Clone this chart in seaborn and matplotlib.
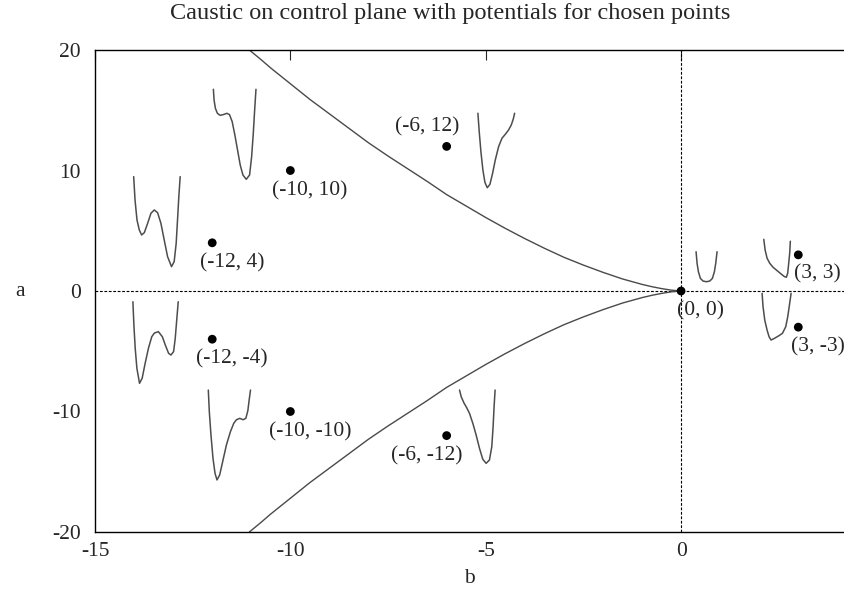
import numpy as np
import matplotlib
matplotlib.use("Agg")
import matplotlib.pyplot as plt
import seaborn as sns

# caustic branch (upper half, lower is mirrored)
caustic_b = [-11.05, -10.75, -10.5, -10.25, -10.0, -9.5, -9.0, -8.5, -8.0, -7.5, -7.0, -6.5,
             -6.0, -5.5, -5.0, -4.5, -4.0, -3.5, -3.0, -2.5, -2.0, -1.5, -1.0, -0.75,
             -0.5, -0.25, 0.0]
caustic_a = [20.0, 19.2, 18.5, 17.85, 17.2, 15.9, 14.7, 13.5, 12.3, 11.2, 10.15, 9.1,
             8.0, 7.05, 6.1, 5.2, 4.35, 3.55, 2.8, 2.15, 1.55, 1.0, 0.55, 0.36,
             0.2, 0.07, 0.0]

# chosen points (b, a)
point_b = [-12, -10, -6, -12, -10, -6, 0, 3, 3]
point_a = [4, 10, 12, -4, -10, -12, 0, 3, -3]

# potential shapes, read from the small glyphs (u across, v up, both 0..1)
pot_u_m12_4 = [0, 0.029, 0.071, 0.121, 0.171, 0.229, 0.3, 0.371, 0.443, 0.514, 0.586,
               0.657, 0.729, 0.814, 0.871, 0.914, 0.943, 0.971, 1]
pot_v_m12_4 = [1, 0.741, 0.519, 0.407, 0.352, 0.378, 0.481, 0.593, 0.63, 0.6, 0.481,
               0.296, 0.111, 0, 0.056, 0.259, 0.519, 0.778, 1]

pot_u_m10_10 = [0, 0.016, 0.047, 0.094, 0.157, 0.236, 0.315, 0.378, 0.441, 0.504, 0.567,
                0.63, 0.693, 0.772, 0.85, 0.898, 0.937, 0.969, 1]
pot_v_m10_10 = [1, 0.881, 0.789, 0.733, 0.711, 0.719, 0.733, 0.719, 0.641, 0.493, 0.326,
                0.159, 0.048, 0, 0.048, 0.252, 0.511, 0.77, 1]

pot_u_m6_12 = [0, 0.036, 0.082, 0.136, 0.191, 0.255, 0.327, 0.4, 0.473, 0.564, 0.655,
               0.745, 0.836, 0.909, 0.964, 1]
pot_v_m6_12 = [1, 0.753, 0.484, 0.238, 0.072, 0, 0.045, 0.193, 0.372, 0.552, 0.664,
               0.717, 0.776, 0.843, 0.924, 1]

pot_u_m12_m4 = [0, 0.022, 0.051, 0.088, 0.146, 0.204, 0.27, 0.343, 0.416, 0.474, 0.562,
                0.65, 0.715, 0.788, 0.84, 0.898, 0.934, 0.964, 1]
pot_v_m12_m4 = [1, 0.714, 0.429, 0.184, 0, 0.061, 0.245, 0.429, 0.571, 0.616, 0.633,
                0.571, 0.469, 0.367, 0.347, 0.388, 0.551, 0.755, 1]

pot_u_m10_m10 = [0, 0.024, 0.063, 0.111, 0.159, 0.206, 0.27, 0.349, 0.429, 0.524, 0.603,
                 0.667, 0.746, 0.825, 0.889, 0.937, 0.968, 1]
pot_v_m10_m10 = [1, 0.759, 0.5, 0.241, 0.074, 0, 0.056, 0.222, 0.389, 0.537, 0.63,
                 0.67, 0.685, 0.67, 0.685, 0.77, 0.889, 1]

pot_u_m6_m12 = [0, 0.047, 0.121, 0.196, 0.28, 0.374, 0.467, 0.561, 0.654, 0.748, 0.841,
                0.907, 0.944, 0.972, 1]
pot_v_m6_m12 = [1, 0.909, 0.827, 0.764, 0.682, 0.545, 0.386, 0.205, 0.055, 0, 0.045,
                0.227, 0.5, 0.773, 1]

pot_u_0_0 = [0, 0.048, 0.111, 0.206, 0.333, 0.492, 0.651, 0.778, 0.873, 0.937, 1]
pot_v_0_0 = [1, 0.611, 0.333, 0.111, 0.022, 0, 0.022, 0.111, 0.333, 0.611, 1]

pot_u_3_3 = [0, 0.05, 0.125, 0.225, 0.35, 0.5, 0.65, 0.775, 0.85, 0.9, 0.9375, 0.975, 1]
pot_v_3_3 = [1, 0.719, 0.5, 0.368, 0.263, 0.175, 0.088, 0.018, 0, 0.105, 0.368, 0.632, 0.95]

pot_u_3_m3 = [0, 0.034, 0.092, 0.172, 0.241, 0.31, 0.425, 0.563, 0.701, 0.816, 0.885, 0.943, 1]
pot_v_3_m3 = [1, 0.714, 0.429, 0.214, 0.071, 0, 0.036, 0.086, 0.143, 0.286, 0.5, 0.75, 1]

glyph_shapes = [(pot_u_m12_4, pot_v_m12_4), (pot_u_m10_10, pot_v_m10_10),
                (pot_u_m6_12, pot_v_m6_12), (pot_u_m12_m4, pot_v_m12_m4),
                (pot_u_m10_m10, pot_v_m10_m10), (pot_u_m6_m12, pot_v_m6_m12),
                (pot_u_0_0, pot_v_0_0), (pot_u_3_3, pot_v_3_3), (pot_u_3_m3, pot_v_3_m3)]

# where each glyph sits on the plane: (b left, b right, a bottom, a top)
glyph_boxes = [(-14.01, -12.82, 2.02, 9.49), (-11.97, -10.88, 9.27, 16.74),
               (-5.20, -4.26, 8.57, 14.75), (-14.03, -12.87, -7.66, -0.89),
               (-12.10, -11.02, -15.68, -8.22), (-5.67, -4.76, -14.30, -8.22),
               (0.384, 0.921, 0.77, 3.26), (2.117, 2.797, 1.14, 4.29),
               (2.073, 2.816, -4.07, -0.19)]

# label offsets (db, da) from each point
label_offsets = [(0.5, -1.65), (0.5, -1.65), (-0.5, 1.6), (0.5, -1.65), (0.5, -1.65),
                 (-0.5, -1.65), (0.5, -1.65), (0.5, -1.6), (0.5, -1.65)]

sns.set_style("white")
plt.rcParams['font.family'] = ['Liberation Serif', 'DejaVu Serif']
plt.rcParams['axes.unicode_minus'] = False

fs = 15.5

fig = plt.figure(figsize=(8.44, 6.03), dpi=100)
ax = fig.add_axes([95 / 844, 1 - 532 / 603, 1 - 95 / 844, (532 - 50) / 603])

# zero axes
ax.axhline(0, color="black", lw=0.8, ls=(0, (2.5, 1.5)), zorder=1)
ax.axvline(0, color="black", lw=0.8, ls=(0, (2.5, 1.5)), zorder=1)

# caustic
cb = np.array(caustic_b)
ca = np.array(caustic_a)
sns.lineplot(x=cb, y=ca, sort=False, estimator=None, color="#4a4a4a", lw=1.0, ax=ax)
sns.lineplot(x=cb, y=-ca, sort=False, estimator=None, color="#4a4a4a", lw=1.0, ax=ax)

# potentials
for (u, v), (b0, b1, a0, a1) in zip(glyph_shapes, glyph_boxes):
    gx = b0 + np.array(u) * (b1 - b0)
    gy = a0 + np.array(v) * (a1 - a0)
    sns.lineplot(x=gx, y=gy, sort=False, estimator=None, color="#4d4d4d", lw=1.1, ax=ax)

# chosen points
sns.scatterplot(x=point_b, y=point_a, color="black", s=40, edgecolor="none", zorder=5, ax=ax)
for b, a, (db, da) in zip(point_b, point_a, label_offsets):
    ax.text(b + db, a + da, f"({b}, {a})", ha="center", va="center", fontsize=fs)

ax.set_xlim(-15, 4.17)
ax.set_ylim(-20, 20)
ax.set_xticks([-15, -10, -5, 0])
ax.set_yticks([-20, -10, 0, 10, 20])
ax.tick_params(direction="in", length=7, width=0.8, labelsize=fs, top=True, right=False)
ax.tick_params(axis="y", pad=10)
ax.tick_params(axis="x", pad=7)
for side in ["left", "bottom", "top"]:
    ax.spines[side].set_color("black")
    ax.spines[side].set_linewidth(1.0)
ax.spines["right"].set_visible(False)

ax.set_xlabel("b", fontsize=fs, labelpad=6)
ax.set_ylabel("a", fontsize=fs, rotation=0, va="center", ha="center")
ax.yaxis.set_label_coords(-0.1, 0.5)
fig.text(450 / 844, 1 - 14 / 603, "Caustic on control plane with potentials for chosen points",
         ha="center", va="center", fontsize=17.5)

fig.savefig("out.png", dpi=100)
